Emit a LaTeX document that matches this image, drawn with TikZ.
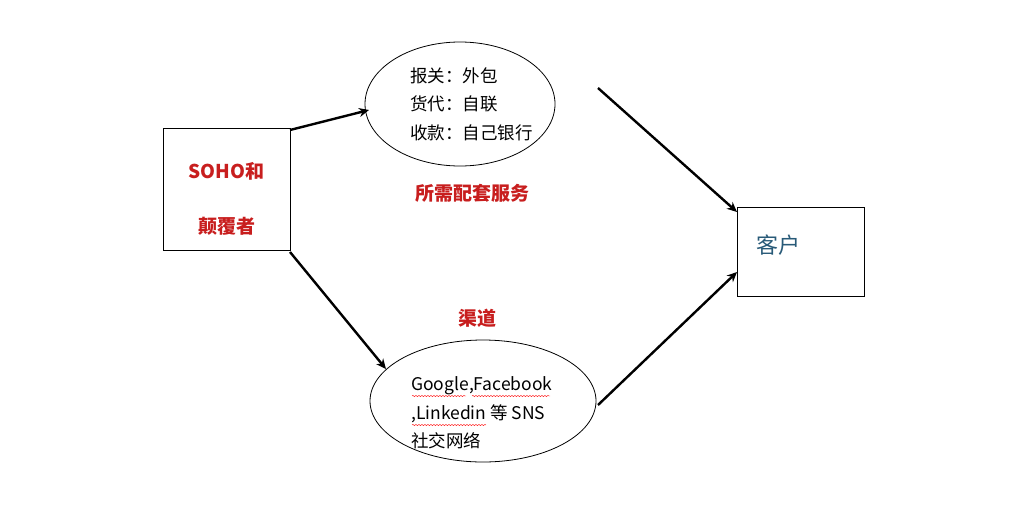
\documentclass[tikz,border=0pt]{standalone}
\usepackage{fontspec}
\setmainfont{Noto Sans CJK SC}
\usetikzlibrary{arrows.meta,decorations.pathmorphing}
\definecolor{redt}{RGB}{200,30,30}
\definecolor{bluet}{RGB}{40,90,120}
\begin{document}
\begin{tikzpicture}[x=1pt,y=-1pt,
  boxs/.style={draw,line width=0.8pt,minimum width=127pt,minimum height=#1,inner sep=0pt},
  conn/.style={line width=2.4pt,-{Stealth[length=10pt,width=9pt]}},
  redl/.style={text=redt,font=\bfseries\fontsize{19}{22}\selectfont},
  txt/.style={font=\fontsize{17.5}{28.5}\selectfont,align=left,anchor=west,inner sep=0pt},
  squig/.style={draw=red,decorate,decoration={snake,amplitude=0.6pt,segment length=3pt},line width=0.4pt}]
\useasboundingbox (0,0) rectangle (1024,525);
\fill[white] (0,0) rectangle (1024,525);
\node[boxs=122pt] (soho) at (226.5,189) {};
\node[redl,align=center,font=\bfseries\fontsize{19}{55}\selectfont] (sohot) at (226.5,199) {SOHO和\\颠覆者};
\draw[line width=0.8pt] (460,104) ellipse (95 and 62);
\node[txt] (tt) at (410,104) {报关：外包\\货代：自联\\收款：自己银行};
\node[redl] (l1) at (472,193) {所需配套服务};
\draw[line width=0.8pt] (483,401) ellipse (113 and 61);
\node[txt] (bt) at (411,413) {Google,Facebook\\,Linkedin 等 SNS\\社交网络};
\draw[squig] (412,396) -- (466,396);
\draw[squig] (472,396) -- (550,396);
\draw[squig] (412,425) -- (486,425);
\node[redl] (l2) at (477,318) {渠道};
\node[boxs=89pt] (kh) at (801,251.5) {};
\node[text=bluet,font=\fontsize{22}{24}\selectfont] (kht) at (778,245) {客户};
\coordinate (a1) at (290,130); \coordinate (a2) at (369,110);
\coordinate (b1) at (598,88); \coordinate (b2) at (737,212);
\coordinate (c1) at (290,252); \coordinate (c2) at (386,369);
\coordinate (d1) at (598,405); \coordinate (d2) at (737,272);
\draw[conn] (a1) -- (a2);
\draw[conn] (b1) -- (b2);
\draw[conn] (c1) -- (c2);
\draw[conn] (d1) -- (d2);
\end{tikzpicture}
\end{document}
